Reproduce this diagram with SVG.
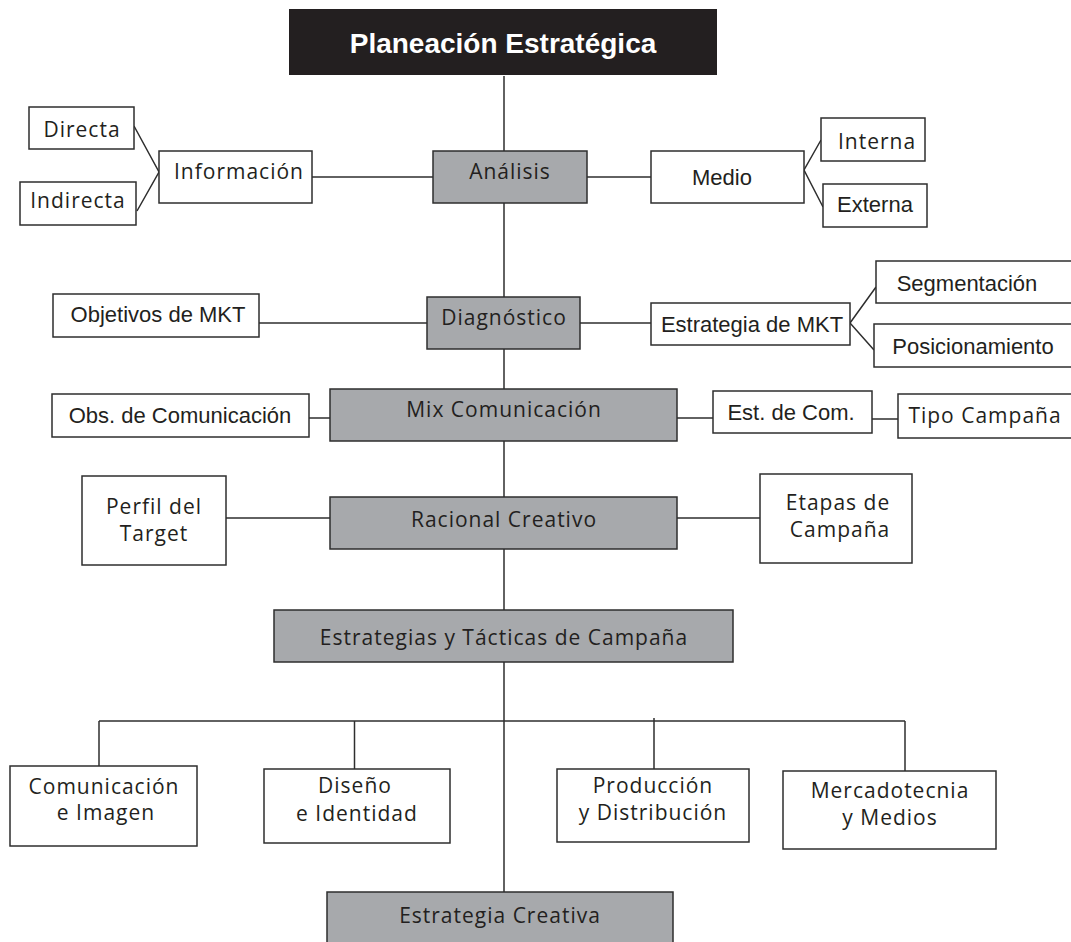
<svg xmlns="http://www.w3.org/2000/svg" width="1071" height="942" viewBox="0 0 1071 942">
  <style>
    .box { fill: #ffffff; stroke: #2e2e2e; stroke-width: 1.5; }
    .grey { fill: #a7a9ac; stroke: #2e2e2e; stroke-width: 1.5; }
    .head { fill: #231f20; }
    .links line, .links polyline { stroke: #2e2e2e; stroke-width: 1.5; fill: none; }
    .hv { font-family: "Liberation Sans", Arial, Helvetica, sans-serif; font-size: 22px; fill: #231f20; text-anchor: middle; }
    .hu { font-family: "Open Sans", "Noto Sans", sans-serif; font-size: 21px; letter-spacing: 1px; fill: #231f20; text-anchor: middle; }
    .title { font-family: "Liberation Sans", Arial, Helvetica, sans-serif; font-size: 28px; font-weight: bold; fill: #ffffff; text-anchor: middle; }
  </style>

  <rect width="1071" height="942" fill="#ffffff"/>

  <!-- connectors -->
  <g class="links">
    <line x1="504" y1="76" x2="504" y2="892"/>
    <!-- Análisis row -->
    <line x1="312" y1="177" x2="433" y2="177"/>
    <polyline points="134,126 159,172 137,211"/>
    <line x1="587" y1="177" x2="651" y2="177"/>
    <polyline points="821,140 804,170 823,207"/>
    <!-- Diagnóstico row -->
    <line x1="259" y1="323" x2="427" y2="323"/>
    <line x1="580" y1="323" x2="651" y2="323"/>
    <polyline points="876,287 850,323 874,350"/>
    <!-- Mix Comunicación row -->
    <line x1="309" y1="418" x2="330" y2="418"/>
    <line x1="677" y1="418" x2="713" y2="418"/>
    <line x1="872" y1="419" x2="898" y2="419"/>
    <!-- Racional Creativo row -->
    <line x1="226" y1="518" x2="330" y2="518"/>
    <line x1="677" y1="518" x2="760" y2="518"/>
    <!-- tactics branches -->
    <line x1="99" y1="721" x2="905" y2="721"/>
    <line x1="99" y1="721" x2="99" y2="766"/>
    <line x1="354.5" y1="721" x2="354.5" y2="769"/>
    <line x1="654" y1="718" x2="654" y2="769"/>
    <line x1="905" y1="721" x2="905" y2="771"/>
  </g>

  <g id="planeacion">
    <rect class="head" x="289" y="9" width="428" height="66"/>
    <text class="title" x="503" y="53">Planeación Estratégica</text>
  </g>

  <g id="directa">
    <rect class="box" x="29" y="107" width="105" height="42"/>
    <text class="hu" x="82" y="137">Directa</text>
  </g>
  <g id="indirecta">
    <rect class="box" x="20" y="182" width="116" height="43"/>
    <text class="hu" x="78" y="208">Indirecta</text>
  </g>
  <g id="informacion">
    <rect class="box" x="159" y="151" width="153" height="52"/>
    <text class="hu" x="239" y="179">Información</text>
  </g>
  <g id="analisis">
    <rect class="grey" x="433" y="151" width="154" height="52"/>
    <text class="hu" x="510" y="179">Análisis</text>
  </g>
  <g id="medio">
    <rect class="box" x="651" y="151" width="153" height="52"/>
    <text class="hv" x="722" y="185">Medio</text>
  </g>
  <g id="interna">
    <rect class="box" x="821" y="118" width="104" height="43"/>
    <text class="hu" x="877" y="149">Interna</text>
  </g>
  <g id="externa">
    <rect class="box" x="823" y="184" width="104" height="43"/>
    <text class="hv" x="875" y="212">Externa</text>
  </g>

  <g id="objetivos-mkt">
    <rect class="box" x="53" y="294" width="206" height="43"/>
    <text class="hv" x="158" y="322">Objetivos de MKT</text>
  </g>
  <g id="diagnostico">
    <rect class="grey" x="427" y="297" width="153" height="52"/>
    <text class="hu" x="504" y="325">Diagnóstico</text>
  </g>
  <g id="estrategia-mkt">
    <rect class="box" x="651" y="303" width="199" height="42"/>
    <text class="hv" x="752" y="332">Estrategia de MKT</text>
  </g>
  <g id="segmentacion">
    <rect class="box" x="876" y="261" width="210" height="42"/>
    <text class="hv" x="967" y="291">Segmentación</text>
  </g>
  <g id="posicionamiento">
    <rect class="box" x="874" y="324" width="212" height="43"/>
    <text class="hv" x="973" y="354">Posicionamiento</text>
  </g>

  <g id="obs-comunicacion">
    <rect class="box" x="52" y="394" width="257" height="43"/>
    <text class="hv" x="180" y="423">Obs. de Comunicación</text>
  </g>
  <g id="mix-comunicacion">
    <rect class="grey" x="330" y="389" width="347" height="52"/>
    <text class="hu" x="504" y="417">Mix Comunicación</text>
  </g>
  <g id="est-com">
    <rect class="box" x="713" y="391" width="159" height="42"/>
    <text class="hv" x="791" y="420">Est. de Com.</text>
  </g>
  <g id="tipo-campana">
    <rect class="box" x="898" y="394" width="190" height="44"/>
    <text class="hu" x="985" y="423">Tipo Campaña</text>
  </g>

  <g id="perfil-target">
    <rect class="box" x="82" y="476" width="144" height="89"/>
    <text class="hu" x="154" y="514">Perfil del</text>
    <text class="hu" x="154" y="541">Target</text>
  </g>
  <g id="racional-creativo">
    <rect class="grey" x="330" y="497" width="347" height="52"/>
    <text class="hu" x="504" y="527">Racional Creativo</text>
  </g>
  <g id="etapas-campana">
    <rect class="box" x="760" y="474" width="152" height="89"/>
    <text class="hu" x="838" y="510">Etapas de</text>
    <text class="hu" x="840" y="537">Campaña</text>
  </g>

  <g id="estrategias-tacticas">
    <rect class="grey" x="274" y="610" width="459" height="52"/>
    <text class="hu" x="504" y="645">Estrategias y Tácticas de Campaña</text>
  </g>

  <g id="comunicacion-imagen">
    <rect class="box" x="10" y="766" width="187" height="80"/>
    <text class="hu" x="104" y="794">Comunicación</text>
    <text class="hu" x="106" y="820">e Imagen</text>
  </g>
  <g id="diseno-identidad">
    <rect class="box" x="264" y="769" width="186" height="74"/>
    <text class="hu" x="355" y="793">Diseño</text>
    <text class="hu" x="357" y="821">e Identidad</text>
  </g>
  <g id="produccion-distribucion">
    <rect class="box" x="557" y="769" width="192" height="73"/>
    <text class="hu" x="653" y="793">Producción</text>
    <text class="hu" x="653" y="820">y Distribución</text>
  </g>
  <g id="mercadotecnia-medios">
    <rect class="box" x="783" y="771" width="213" height="78"/>
    <text class="hu" x="890" y="798">Mercadotecnia</text>
    <text class="hu" x="890" y="825">y Medios</text>
  </g>

  <g id="estrategia-creativa">
    <rect class="grey" x="327" y="892" width="346" height="70"/>
    <text class="hu" x="500" y="923">Estrategia Creativa</text>
  </g>
</svg>
